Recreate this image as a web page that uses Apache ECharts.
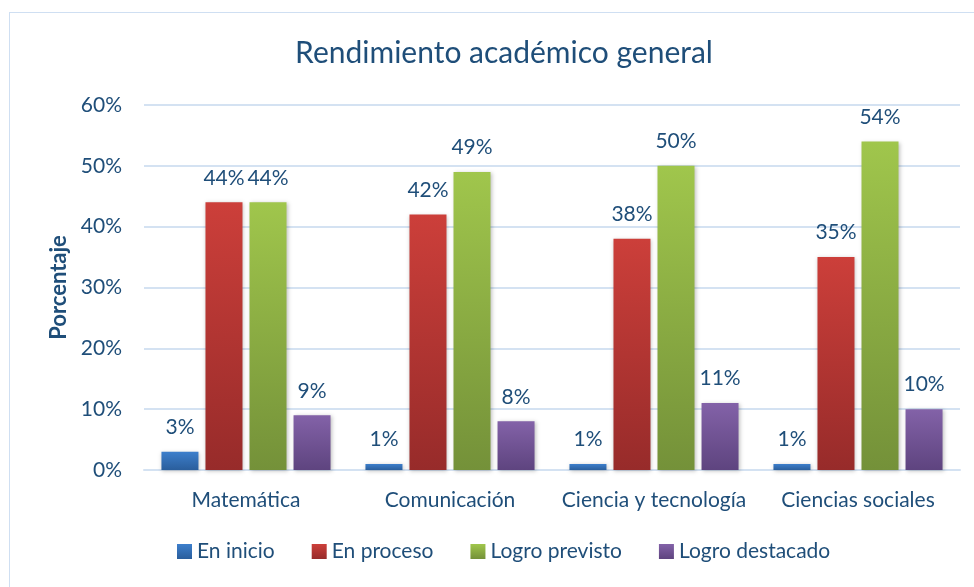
<!DOCTYPE html>
<html>
<head>
<meta charset="utf-8">
<script src="https://cdn.jsdelivr.net/npm/echarts@6/dist/echarts.min.js"></script>
<style>
html, body {margin: 0; padding: 0; background: #fff;}
#frame {position: absolute; left: 9px; top: 12px; width: 980px; height: 600px; border: 1px solid #cfdff2; box-sizing: border-box;}
#contain {width: 974px; height: 587px;}
</style>
</head>
<body>
<div id="frame"></div>
<div id="contain"></div>
<script>
var categories = ['Matemática', 'Comunicación', 'Ciencia y tecnología', 'Ciencias sociales'];
var enInicio = [3, 1, 1, 1];
var enProceso = [44, 42, 38, 35];
var logroPrevisto = [44, 49, 50, 54];
var logroDestacado = [9, 8, 11, 10];
var yTicks = [0, 10, 20, 30, 40, 50, 60];

var textColor = '#1F4E79';
var font = 'Lato';

function grad(top, bottom) {
    return new echarts.graphic.LinearGradient(0, 0, 0, 1, [
        {offset: 0, color: top},
        {offset: 1, color: bottom}
    ]);
}

function barSeries(name, data, top, bottom) {
    return {
        name: name,
        type: 'bar',
        data: data,
        barWidth: 37,
        barGap: '19%',
        itemStyle: {
            color: grad(top, bottom),
            shadowColor: 'rgba(0,0,0,0.25)',
            shadowBlur: 4,
            shadowOffsetX: 1,
            shadowOffsetY: 1
        },
        label: {
            show: true,
            position: 'top',
            distance: 14,
            formatter: '{c}%',
            color: textColor,
            fontFamily: font,
            fontSize: 21
        }
    };
}

var myChart = echarts.init(document.getElementById('contain'));
var option = {
    animation: false,
    title: {
        text: 'Rendimiento académico general',
        left: 499,
        top: 33,
        textAlign: 'center',
        textStyle: {color: textColor, fontFamily: font, fontSize: 30, fontWeight: 'normal'}
    },
    legend: {
        bottom: 20,
        left: 172,
        itemWidth: 15,
        itemHeight: 15,
        itemGap: 37,
        icon: 'rect',
        textStyle: {color: textColor, fontFamily: font, fontSize: 21}
    },
    grid: {left: 144, right: 14, top: 105, bottom: 117},
    xAxis: {
        type: 'category',
        data: categories,
        axisTick: {show: false},
        axisLine: {lineStyle: {color: '#d4e2f2', width: 2}},
        axisLabel: {interval: 0, color: textColor, fontFamily: font, fontSize: 21, margin: 20}
    },
    yAxis: {
        type: 'value',
        min: yTicks[0],
        max: yTicks[yTicks.length - 1],
        interval: 10,
        name: 'Porcentaje',
        nameLocation: 'middle',
        nameGap: 74,
        nameTextStyle: {color: textColor, fontFamily: font, fontSize: 22, fontWeight: 'bold'},
        axisLine: {show: false},
        axisTick: {show: false},
        axisLabel: {color: textColor, fontFamily: font, fontSize: 21, margin: 22, formatter: '{value}%'},
        splitLine: {lineStyle: {color: '#d4e2f2', width: 2}}
    },
    series: [
        barSeries('En inicio', enInicio, '#3D7FCC', '#2A5E9C'),
        barSeries('En proceso', enProceso, '#CC3F3A', '#972B2A'),
        barSeries('Logro previsto', logroPrevisto, '#A0C64C', '#749139'),
        barSeries('Logro destacado', logroDestacado, '#8362A8', '#5E447F')
    ]
};
myChart.setOption(option, true);
</script>
</body>
</html>
